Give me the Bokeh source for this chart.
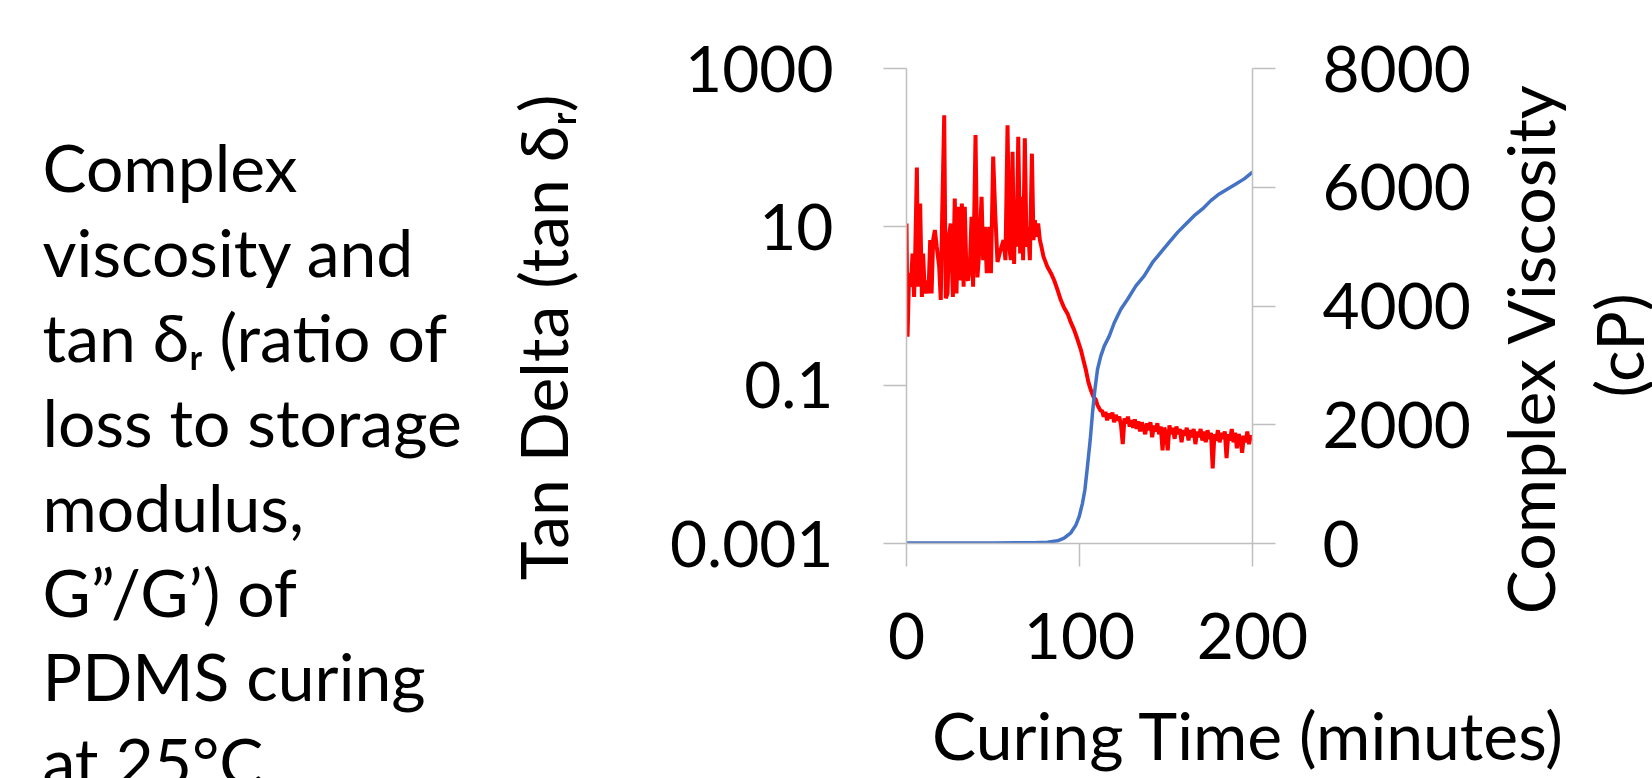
from math import pi
from bokeh.plotting import figure
from bokeh.models import (Range1d, LinearAxis, LinearScale, FixedTicker,
                          CustomJSTickFormatter)
from bokeh.layouts import row, column
from bokeh.core.properties import value
from bokeh.embed import file_html
from bokeh.resources import INLINE

# ---------------- data ----------------
t_tan = [0.0, 0.6, 1.5, 2.5, 3.5, 4.4, 5.0, 6.0, 6.7, 7.9, 8.9, 9.6, 10.6, 11.8, 12.7,
         13.7, 14.5, 15.4, 16.4, 17.5, 18.9, 19.8, 20.6, 21.8, 22.7, 23.7, 24.7, 25.6,
         26.8, 27.9, 28.9, 29.9, 30.8, 32.0, 33.0, 33.7, 34.7, 35.6, 36.6, 37.6, 38.5,
         39.9, 41.0, 42.0, 43.4, 44.3, 45.3, 46.4, 47.8, 48.8, 50.1, 51.3, 52.6, 53.8,
         54.9, 56.1, 57.2, 58.4, 59.4, 60.3, 61.3, 62.2, 62.8, 63.6, 64.6, 65.7, 66.7,
         67.4, 68.4, 69.4, 70.3, 71.3, 72.5, 73.4, 74.2, 75.2, 76.1, 77.1, 78.0, 79.2,
         81.5, 83.5, 85.4, 87.3, 89.2, 91.1, 93.1, 95.0, 96.9, 98.8, 100.8, 102.2, 103.7,
         105.1, 106.6, 108.0, 109.5, 110.4, 111.4, 112.3,
         113, 114, 115, 116, 117, 118, 119, 120, 121, 122, 123, 124, 125, 126, 127, 128,
         129, 130, 131, 132, 133, 134, 135, 136, 137, 138, 139, 140, 141, 142, 143, 144,
         145, 146, 147, 148, 149, 150, 151, 152, 153, 154, 155, 156, 157, 158, 159, 160,
         161, 162, 163, 164, 165, 166, 167, 168, 169, 170, 171, 172, 173, 174, 175, 176,
         177, 178, 179, 180, 181, 182, 183, 184, 185, 186, 187, 188, 189, 190, 191, 192,
         193, 194, 195, 196, 197, 198, 199, 200]
tan_delta = [11.0, 0.41, 2.6, 1.75, 4.6, 1.3, 4.2, 56, 1.75, 19.7, 1.3, 4.6, 1.44, 2.1, 1.44,
             6.8, 1.44, 6.8, 9.1, 5.6, 3.1, 1.19, 13.4, 257, 1.25, 1.44, 8.2, 11, 1.3, 22.8,
             1.44, 17.9, 2.1, 19.7, 1.75, 17.9, 2.3, 2.1, 3.1, 13.4, 1.75, 144, 2.3, 4.6, 24,
             3.8, 10, 2.6, 10, 2.6, 77, 14.7, 3.6, 4.6, 5.6, 6.8, 3.8, 192, 5.6, 3.8, 89, 3.4,
             17.9, 5.6, 137, 4.6, 24, 3.8, 131, 5.6, 10, 3.8, 84, 6.8, 12.1, 7.5, 11, 6.8,
             5.6, 4.2,
             3.1, 2.6, 2.1, 1.6, 1.19, 0.95, 0.80, 0.62, 0.50, 0.38, 0.28, 0.21, 0.155,
             0.11, 0.086, 0.072, 0.065, 0.056, 0.051, 0.047,
             0.048, 0.040, 0.046, 0.036, 0.044, 0.038, 0.045, 0.034, 0.042, 0.036, 0.040,
             0.031, 0.018, 0.038, 0.033, 0.040, 0.030, 0.036, 0.029, 0.037, 0.028, 0.035,
             0.026, 0.034, 0.029, 0.024, 0.033, 0.027, 0.034, 0.022, 0.031, 0.026, 0.033,
             0.024, 0.030, 0.015, 0.029, 0.025, 0.015, 0.031, 0.024, 0.029, 0.021, 0.030,
             0.024, 0.028, 0.019, 0.027, 0.023, 0.029, 0.020, 0.027, 0.022, 0.028, 0.018,
             0.026, 0.022, 0.028, 0.020, 0.026, 0.019, 0.027, 0.021, 0.025, 0.0089, 0.024,
             0.020, 0.027, 0.019, 0.025, 0.021, 0.026, 0.012, 0.024, 0.020, 0.028, 0.019,
             0.025, 0.016, 0.024, 0.021, 0.014, 0.023, 0.019, 0.026, 0.018, 0.023, 0.021]

t_visc = [0, 50, 73.8, 81.5, 87.3, 91.1, 95.0, 97.9, 99.8, 101.7, 103.1, 104.6, 106.2,
          107.5, 108.9, 110.4, 112.3, 114.3, 117.2, 120.1, 123.9, 127.8, 132.6, 137.4,
          142.2, 147.0, 151.8, 156.7, 161.5, 166.3, 171.1, 175.9, 180.8, 185.6, 190.4,
          195.2, 200]
viscosity = [10, 10, 12, 23, 45, 90, 180, 310, 451, 676, 901, 1296, 1747, 2197, 2592,
             2930, 3155, 3324, 3493, 3718, 3944, 4113, 4338, 4507, 4733, 4902, 5071, 5240,
             5380, 5521, 5634, 5775, 5888, 5972, 6056, 6141, 6254]

tan_ticks = [0.001, 0.1, 10, 1000]
visc_ticks = [0, 2000, 4000, 6000, 8000]
time_ticks = [0, 100, 200]

caption_lines = ["Complex", "viscosity and", "tan \u03b4\u1d63 (ratio of", "loss to storage",
                 "modulus,", "G\u201d/G\u2019) of", "PDMS curing", "at 25\u00b0C"]
x_title = "Curing Time (minutes)"
y_title = "Tan Delta (tan \u03b4\u1d63)"
y2_title = ["Complex Viscosity", "(cP)"]

# ---------------- layout ----------------
FONT = "Lato"
TXT = "66px"
TICK = "64px"
AX = "#BFBFBF"
PAGE_W, PAGE_H = 1652, 778
CAP_W = 600             # caption panel width
MAIN_W, MAIN_H = 890, 700
RIGHT_W = PAGE_W - CAP_W - MAIN_W
XT_H = PAGE_H - MAIN_H
# frame bounds on the page
FL, FR, FT, FB = 906, 1252, 68, 543


def blank(w, h):
    f = figure(width=w, height=h, output_backend="svg", toolbar_location=None,
               x_range=Range1d(0, w), y_range=Range1d(0, h),
               x_axis_location=None, y_axis_location=None, min_border=0,
               frame_align=False)
    f.outline_line_color = None
    f.grid.visible = False
    return f


# caption + left axis title
cap = blank(CAP_W, PAGE_H)
cap.text(x=[42] * len(caption_lines),
         y=[PAGE_H - (166 + i * 84.9) for i in range(len(caption_lines))],
         text=caption_lines, text_font=value(FONT), text_font_size=TXT,
         text_color="black", text_align="left", text_baseline="alphabetic")
cap.text(x=[542], y=[PAGE_H - 337], text=[y_title], angle=pi / 2,
         text_font=value(FONT), text_font_size=TXT, text_color="black",
         text_align="center", text_baseline="middle")

# main chart
p = figure(width=MAIN_W, height=MAIN_H, output_backend="svg", toolbar_location=None,
           x_range=Range1d(0, 200), y_range=Range1d(0.001, 1000), y_axis_type="log",
           min_border_left=FL - CAP_W, min_border_right=CAP_W + MAIN_W - FR,
           min_border_top=FT, min_border_bottom=MAIN_H - FB, frame_align=False)
p.extra_y_ranges = {"visc": Range1d(0, 8000)}
p.extra_y_scales = {"visc": LinearScale()}
p.outline_line_color = None
p.xgrid.visible = False
p.ygrid.visible = False

p.line(t_tan, tan_delta, line_color="#FF0000", line_width=4)
p.line(t_visc, viscosity, line_color="#4472C4", line_width=3.5, y_range_name="visc")

right = LinearAxis(y_range_name="visc")
p.add_layout(right, "right")


def style(ax, standoff):
    ax.axis_line_color = AX
    ax.axis_line_width = 1.5
    ax.major_tick_line_color = AX
    ax.major_tick_line_width = 1.5
    ax.major_tick_out = 23
    ax.major_tick_in = 0
    ax.minor_tick_line_color = None
    ax.major_label_text_font = FONT
    ax.major_label_text_font_size = TICK
    ax.major_label_text_color = "black"
    ax.major_label_standoff = standoff


left = p.yaxis[0]
left.ticker = FixedTicker(ticks=tan_ticks)
left.formatter = CustomJSTickFormatter(code="return String(tick)")
style(left, 50)
right.ticker = FixedTicker(ticks=visc_ticks)
style(right, 47)
bottom = p.xaxis[0]
bottom.ticker = FixedTicker(ticks=time_ticks)
style(bottom, 46)

# right axis title (two lines, rotated)
rt = blank(RIGHT_W, MAIN_H)
x0 = CAP_W + MAIN_W
rt.text(x=[1529 - x0, 1618 - x0], y=[MAIN_H - 348, MAIN_H - 345], text=y2_title,
        angle=pi / 2, text_font=value(FONT), text_font_size=TXT, text_color="black",
        text_align="center", text_baseline="middle")

# x axis title
xt = blank(PAGE_W - CAP_W, XT_H)
xt.text(x=[1248 - CAP_W], y=[PAGE_H - 734], text=[x_title],
        text_font=value(FONT), text_font_size=TXT, text_color="black",
        text_align="center", text_baseline="alphabetic")

layout = row(cap, column(row(p, rt, spacing=0), xt, spacing=0), spacing=0)
open("out.html", "w").write(file_html(layout, INLINE))
